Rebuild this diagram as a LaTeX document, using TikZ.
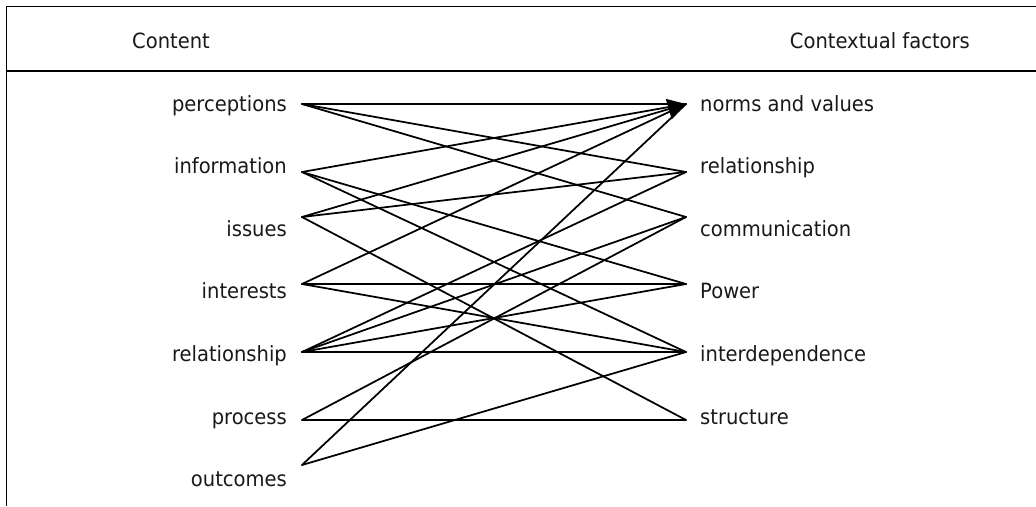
\documentclass[tikz,border=0pt]{standalone}
\usepackage{fontspec}
\setmainfont{DejaVu Sans}[FakeStretch=0.93]
\usetikzlibrary{arrows.meta}
\begin{document}
\begin{tikzpicture}[x=1pt,y=-1pt,
  lbl/.style={font=\fontsize{21}{25}\selectfont, inner sep=0pt, text=black!90},
  leftlbl/.style={lbl, anchor=base east},
  rightlbl/.style={lbl, anchor=base west},
  headlbl/.style={lbl},
  rule/.style={line width=1.9pt},
  link/.style={line width=1.75pt, line cap=round},
  main/.style={link, -{Triangle[length=18pt,width=21pt]}}]
\useasboundingbox (0,0) rectangle (1036,506);

% table frame: top rule, header rule, left side
\draw[rule] (1036,6.5) -- (6.5,6.5) -- (6.5,506);
\draw[rule] (6.5,70.7) -- (1036,70.7);

% column headings
\node[headlbl, anchor=base west] (hcontent) at (132,48) {Content};
\node[headlbl, anchor=base east] (hcontext) at (970,48) {Contextual factors};

% content items
\node[leftlbl] (tPerc) at (287,111)   {perceptions};
\node[leftlbl] (tInfo) at (287,173.6) {information};
\node[leftlbl] (tIssu) at (287,236.2) {issues};
\node[leftlbl] (tInte) at (287,298.8) {interests};
\node[leftlbl] (tRela) at (287,361.4) {relationship};
\node[leftlbl] (tProc) at (287,424)   {process};
\node[leftlbl] (tOutc) at (287,486.6) {outcomes};

% contextual factors
\node[rightlbl] (tNorm) at (700,111)   {norms and values};
\node[rightlbl] (tRelf) at (700,173.6) {relationship};
\node[rightlbl] (tComm) at (700,236.2) {communication};
\node[rightlbl] (tPowe) at (700,298.8) {Power};
\node[rightlbl] (tDepe) at (700,361.4) {interdependence};
\node[rightlbl] (tStru) at (700,424)   {structure};

% connector ends
\coordinate (cPerc) at (302,104);
\coordinate (cInfo) at (302,172);
\coordinate (cIssu) at (302,217);
\coordinate (cInte) at (302,284);
\coordinate (cRela) at (302,352);
\coordinate (cProc) at (302,420);
\coordinate (cOutc) at (302,465);

\coordinate (fNorm) at (686,104);
\coordinate (fRela) at (686,172);
\coordinate (fComm) at (686,217);
\coordinate (fPowe) at (686,284);
\coordinate (fDepe) at (686,352);
\coordinate (fStru) at (686,420);

% links
\draw[link] (cPerc) -- (fNorm);
\draw[link] (cPerc) -- (fRela);
\draw[link] (cPerc) -- (fComm);

\draw[link] (cInfo) -- (fNorm);
\draw[link] (cInfo) -- (fPowe);
\draw[link] (cInfo) -- (fDepe);

\draw[main] (cIssu) -- (fNorm);
\draw[link] (cIssu) -- (fRela);
\draw[link] (cIssu) -- (fStru);

\draw[link] (cInte) -- (fNorm);
\draw[link] (cInte) -- (fPowe);
\draw[link] (cInte) -- (fDepe);

\draw[link] (cRela) -- (fRela);
\draw[link] (cRela) -- (fComm);
\draw[link] (cRela) -- (fPowe);
\draw[link] (cRela) -- (fDepe);

\draw[link] (cProc) -- (fComm);
\draw[link] (cProc) -- (fStru);

\draw[link] (cOutc) -- (fNorm);
\draw[link] (cOutc) -- (fDepe);
\end{tikzpicture}
\end{document}
